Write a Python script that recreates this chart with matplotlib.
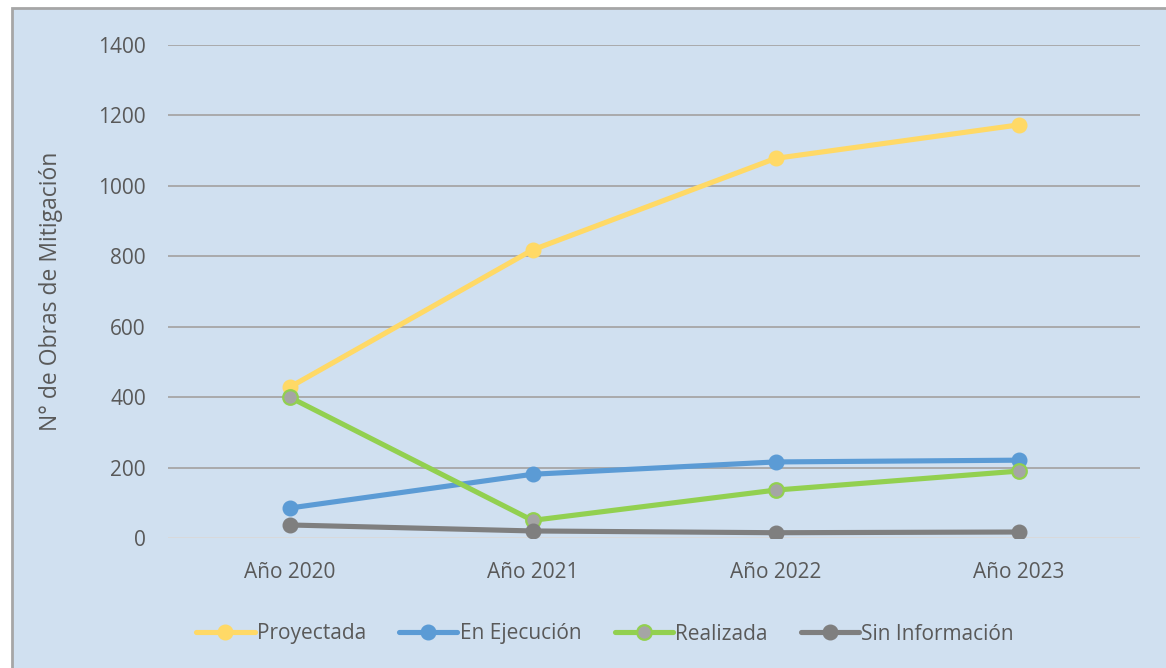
import matplotlib
matplotlib.use("Agg")
import matplotlib.pyplot as plt
from matplotlib.patches import Rectangle

categories = ["Año 2020", "Año 2021", "Año 2022", "Año 2023"]
proyectada = [428, 818, 1078, 1173]
en_ejecucion = [85, 181, 216, 221]
realizada = [400, 50, 136, 190]
sin_informacion = [37, 20, 15, 17]
yticks = [0, 200, 400, 600, 800, 1000, 1200, 1400]

plt.rcParams['font.family'] = ['Open Sans', 'DejaVu Sans']
txt = '#595959'
bg = '#D0E0F0'

fig = plt.figure(figsize=(11.66, 6.68), dpi=100)
fig.patch.set_facecolor('white')
bgrect = Rectangle((12/1166, -0.05), 1.0, 1.05 - 8/668, transform=fig.transFigure,
                   facecolor=bg, edgecolor='#A6A6A6', linewidth=2, zorder=-10)
fig.patches.append(bgrect)

ax = fig.add_axes([168/1166, 1 - 538/668, (1140-168)/1166, (538-45)/668])
ax.set_zorder(1)
ax.set_facecolor('none')
x = list(range(len(categories)))

lw = 3.7
ms = 10.5
ax.plot(x, proyectada, color='#FFD966', lw=lw, marker='o', ms=ms, mfc='#FFD966', mec='#FFD966', label='Proyectada', zorder=3, solid_capstyle='round')
ax.plot(x, en_ejecucion, color='#5B9BD5', lw=lw, marker='o', ms=ms, mfc='#5B9BD5', mec='#5B9BD5', label='En Ejecución', zorder=3, solid_capstyle='round')
ax.plot(x, realizada, color='#92D050', lw=lw, marker='o', ms=ms, mfc='#A5A5A5', mec='#92D050', mew=1.6, label='Realizada', zorder=3, solid_capstyle='round')
ax.plot(x, sin_informacion, color='#7F7F7F', lw=lw, marker='o', ms=ms, mfc='#7F7F7F', mec='#7F7F7F', label='Sin Información', zorder=3, solid_capstyle='round')

ax.set_xlim(-0.5, 3.5)
ax.set_ylim(0, 1400)
ax.set_yticks(yticks)
ax.set_yticklabels([str(v) for v in yticks])
ax.set_xticks(x)
ax.set_xticklabels(categories)
for yv in yticks[1:]:
    ax.axhline(yv, color='#A6A6A6', lw=1.3, zorder=1)
ax.axhline(0, color='#D9D9D9', lw=1.3, zorder=1)
for s in ax.spines.values():
    s.set_visible(False)
ax.tick_params(axis='both', length=0, labelsize=15, labelcolor=txt)
ax.tick_params(axis='y', pad=16)
ax.tick_params(axis='x', pad=17)
ax.set_ylabel('N° de Obras de Mitigación', fontsize=16.5, color=txt, labelpad=25)

leg = fig.legend(loc='center', bbox_to_anchor=(605/1166, 1 - 634/668), ncol=4, frameon=False,
                 fontsize=15, labelcolor=txt, handlelength=2.8, handletextpad=0.1, columnspacing=1.6,
                 markerscale=1.0)

fig.savefig('out.png', dpi=100, facecolor='white')
